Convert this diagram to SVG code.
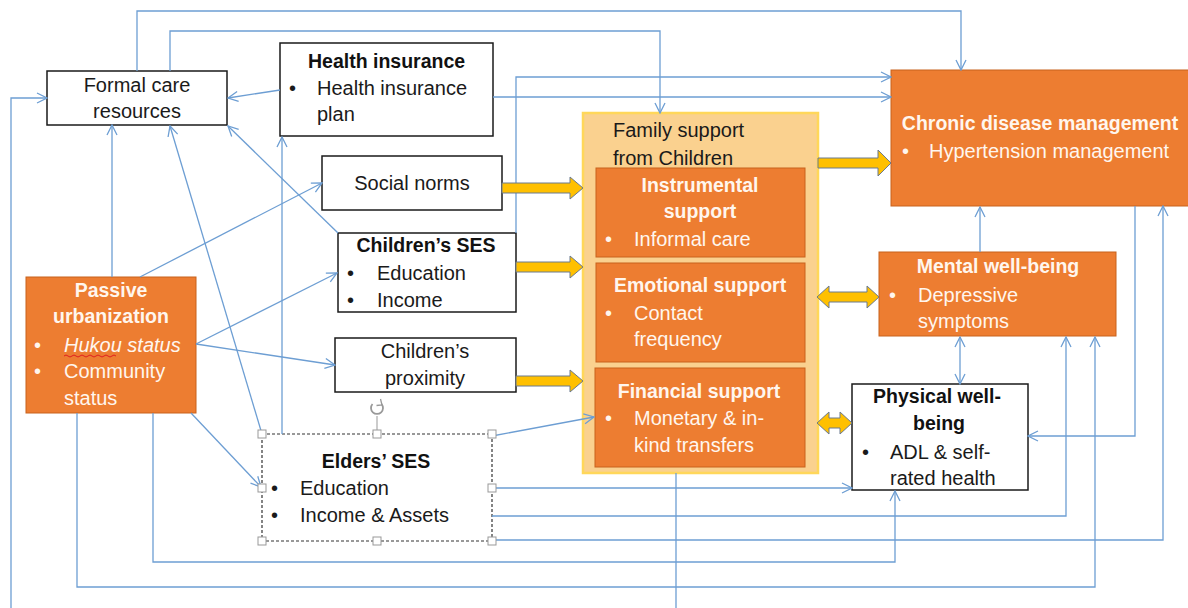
<svg xmlns="http://www.w3.org/2000/svg" width="1188" height="608" viewBox="0 0 1188 608">
<style>
.t{font-family:"Liberation Sans",Arial,sans-serif;font-size:20px;fill:#1a1a1a}
.b{font-family:"Liberation Sans",Arial,sans-serif;font-size:19.5px;font-weight:bold;fill:#111}
.w{fill:#FFF6EE}
.c{text-anchor:middle}
.box{fill:#fff;stroke:#1a1a1a;stroke-width:1.5}
.org{fill:#ED7D31;stroke:#C8621C;stroke-width:1}
.ln{fill:none;stroke:#6D9ED3;stroke-width:1.3}
.ar{marker-end:url(#ah)}
.thick{fill:#FFC000;stroke:#6B7A8F;stroke-width:1}
.hd{fill:#fff;stroke:#999;stroke-width:1}
</style>
<defs>
<marker id="ah" viewBox="0 0 12 12" refX="11" refY="6" markerWidth="12" markerHeight="12" markerUnits="userSpaceOnUse" orient="auto-start-reverse">
<path d="M1,1 L11,6 L1,11" fill="none" stroke="#6D9ED3" stroke-width="1.3"/>
</marker>
</defs>
<rect width="1188" height="608" fill="#fff"/>

<g id="formal-care">
<rect class="box" x="47" y="71" width="180" height="54"/>
<text class="t c" x="137" y="92">Formal care</text>
<text class="t c" x="137" y="118">resources</text>
</g>

<g id="health-insurance">
<rect class="box" x="280" y="43" width="213" height="93"/>
<text class="b" x="308" y="68">Health insurance</text>
<text class="t" x="289" y="95">•</text>
<text class="t" x="317" y="95">Health insurance</text>
<text class="t" x="317" y="121">plan</text>
</g>

<g id="social-norms">
<rect class="box" x="322" y="156" width="180" height="54"/>
<text class="t c" x="412" y="190">Social norms</text>
</g>

<g id="children-ses">
<rect class="box" x="338" y="233" width="178" height="79"/>
<text class="b c" x="426" y="252">Children’s SES</text>
<text class="t" x="347" y="280">•</text>
<text class="t" x="377" y="280">Education</text>
<text class="t" x="347" y="307">•</text>
<text class="t" x="377" y="307">Income</text>
</g>

<g id="children-proximity">
<rect class="box" x="335" y="338" width="181" height="54"/>
<text class="t c" x="425" y="358">Children’s</text>
<text class="t c" x="425" y="385">proximity</text>
</g>

<g id="passive-urbanization">
<rect class="org" x="26" y="277" width="170" height="136"/>
<text class="b w c" x="111" y="297">Passive</text>
<text class="b w c" x="111" y="323">urbanization</text>
<text class="t w" x="34" y="352">•</text>
<text class="t w" x="64" y="352" font-style="italic">Hukou status</text>
<path d="M64,356 q2,-2 4,0 t4,0 t4,0 t4,0 t4,0 t4,0 t4,0 t4,0 t4,0 t4,0 t4,0 t4,0 t4,0" fill="none" stroke="#E02020" stroke-width="1"/>
<text class="t w" x="34" y="378">•</text>
<text class="t w" x="64" y="378">Community</text>
<text class="t w" x="64" y="405">status</text>
</g>

<g id="elders-ses">
<rect x="262" y="434" width="230" height="107" fill="#fff" stroke="#333" stroke-width="1.2" stroke-dasharray="3,2"/>
<line x1="377" y1="416" x2="377" y2="434" stroke="#999" stroke-width="1"/>
<path d="M372.5,404 A6,6 0 1 0 381.5,404" fill="none" stroke="#999" stroke-width="1.8"/>
<path d="M380.5,399 L382,405 L376.5,405.5" fill="none" stroke="#999" stroke-width="1.3"/>
<text class="b c" x="376" y="468">Elders’ SES</text>
<text class="t" x="271" y="495">•</text>
<text class="t" x="300" y="495">Education</text>
<text class="t" x="271" y="522">•</text>
<text class="t" x="300" y="522">Income &amp; Assets</text>
</g>

<g id="family-support">
<rect x="583" y="113" width="235" height="360" fill="#FAD18F" stroke="#FFD75A" stroke-width="2.5"/>
<text class="t" x="613" y="137">Family support</text>
<text class="t" x="613" y="165">from Children</text>
</g>

<g id="instrumental-support">
<rect class="org" x="596" y="168" width="209" height="89"/>
<text class="b w c" x="700" y="192">Instrumental</text>
<text class="b w c" x="700" y="218">support</text>
<text class="t w" x="605" y="246">•</text>
<text class="t w" x="634" y="246">Informal care</text>
</g>

<g id="emotional-support">
<rect class="org" x="596" y="263" width="209" height="99"/>
<text class="b w c" x="700" y="292">Emotional support</text>
<text class="t w" x="605" y="320">•</text>
<text class="t w" x="634" y="320">Contact</text>
<text class="t w" x="634" y="346">frequency</text>
</g>

<g id="financial-support">
<rect class="org" x="595" y="368" width="210" height="99"/>
<text class="b w c" x="699" y="398">Financial support</text>
<text class="t w" x="605" y="425">•</text>
<text class="t w" x="634" y="425">Monetary &amp; in-</text>
<text class="t w" x="634" y="452">kind transfers</text>
</g>

<g id="chronic-disease">
<rect class="org" x="891" y="70" width="300" height="136"/>
<text class="b w c" x="1040" y="130">Chronic disease management</text>
<text class="t w" x="902" y="158">•</text>
<text class="t w" x="929" y="158">Hypertension management</text>
</g>

<g id="mental-wellbeing">
<rect class="org" x="879" y="252" width="237" height="84"/>
<text class="b w c" x="998" y="273">Mental well-being</text>
<text class="t w" x="889" y="302">•</text>
<text class="t w" x="918" y="302">Depressive</text>
<text class="t w" x="918" y="328">symptoms</text>
</g>

<g id="physical-wellbeing">
<rect class="box" x="852" y="384" width="176" height="106"/>
<text class="b c" x="937" y="403">Physical well-</text>
<text class="b c" x="939" y="430">being</text>
<text class="t" x="862" y="459">•</text>
<text class="t" x="890" y="459">ADL &amp; self-</text>
<text class="t" x="890" y="485">rated health</text>
</g>

<g id="connectors">
<path class="ln ar" d="M137,71 V11 H961 V70"/>
<path class="ln ar" d="M170,71 V31 H660 V113"/>
<path class="ln ar" d="M280,90 L228,98"/>
<path class="ln ar" d="M493,97 H891"/>
<path class="ln ar" d="M516,233 V77 H891"/>
<path class="ln ar" d="M112,277 V125"/>
<path class="ln ar" d="M262,434 L170,126"/>
<path class="ln ar" d="M338,233 L228,126"/>
<path class="ln ar" d="M282,434 V137"/>
<path class="ln ar" d="M140,277 L322,183"/>
<path class="ln ar" d="M196,344 L337,273"/>
<path class="ln ar" d="M196,344 L335,365"/>
<path class="ln ar" d="M191,413 L261,487"/>
<path class="ln ar" d="M492,436 L594,417"/>
<path class="ln ar" d="M492,488 H852"/>
<path class="ln ar" d="M492,516 H1066 V337"/>
<path class="ln ar" d="M492,540 H1163 V206"/>
<path class="ln ar" d="M153,413 V562 H895 V491"/>
<path class="ln ar" d="M77,413 V587 H1095 V337"/>
<path class="ln ar" d="M676,473 V620 H11 V98 H47"/>
<path class="ln ar" d="M1135,206 V436 H1028"/>
<path class="ln ar" d="M980,252 V207"/>
<path class="ln ar" style="marker-start:url(#ah)" d="M960,337 V384"/>
<polygon class="thick" points="502,183 570,183 570,177 583,188 570,199 570,193 502,193"/>
<polygon class="thick" points="516,262 570,262 570,256 583,267 570,278 570,272 516,272"/>
<polygon class="thick" points="516,376 570,376 570,370 583,381 570,392 570,386 516,386"/>
<polygon class="thick" points="818,158 878,158 878,150 891,163 878,176 878,168 818,168"/>
<polygon class="thick" points="817,297 829,286 829,292 867,292 867,286 879,297 867,308 867,302 829,302 829,308"/>
<polygon class="thick" points="817,423 829,412 829,418 840,418 840,412 852,423 840,434 840,428 829,428 829,434"/>
</g>

<g id="elders-ses-handles">
<rect class="hd" x="258" y="430" width="8" height="8"/>
<rect class="hd" x="373" y="430" width="8" height="8"/>
<rect class="hd" x="488" y="430" width="8" height="8"/>
<rect class="hd" x="258" y="484" width="8" height="8"/>
<rect class="hd" x="488" y="484" width="8" height="8"/>
<rect class="hd" x="258" y="537" width="8" height="8"/>
<rect class="hd" x="373" y="537" width="8" height="8"/>
<rect class="hd" x="488" y="537" width="8" height="8"/>
</g>
</svg>
